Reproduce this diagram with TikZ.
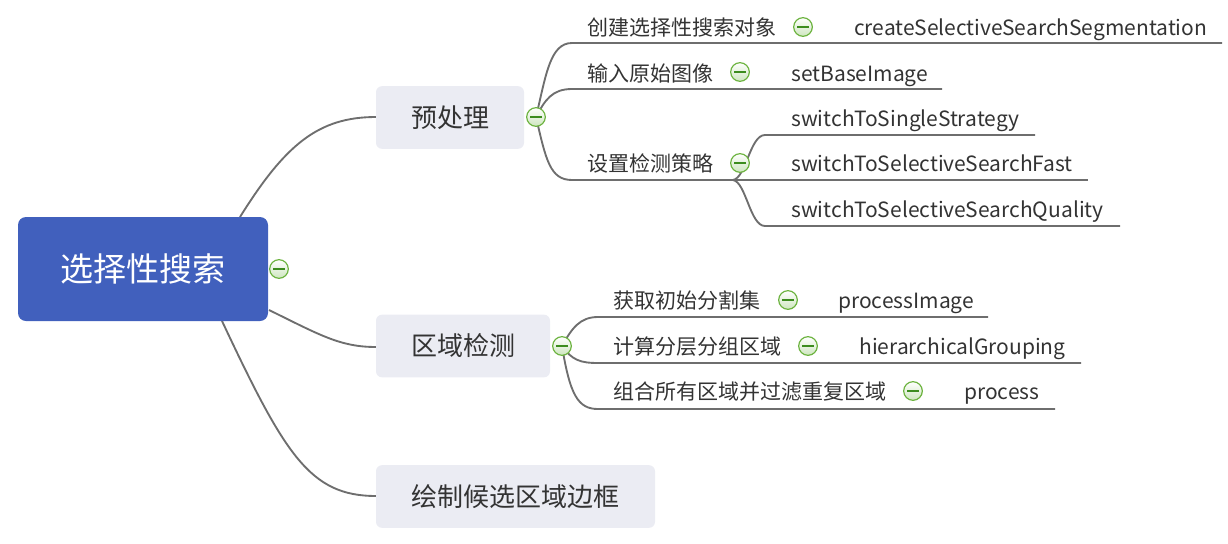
\documentclass[tikz,border=0pt]{standalone}
\usepackage{fontspec}
\setmainfont{Noto Sans CJK SC}
\definecolor{rootblue}{HTML}{4160BD}
\definecolor{subfill}{HTML}{EBECF3}
\definecolor{linegray}{HTML}{6E6E6E}
\definecolor{txt}{HTML}{333333}
\definecolor{foldgreen}{HTML}{6CB33F}
\definecolor{foldlight}{HTML}{CDE6BE}
\definecolor{folddark}{HTML}{3C8C1E}
\begin{document}
\begin{tikzpicture}[x=0.75pt,y=-0.75pt,
  conn/.style={draw=linegray, line width=1.4pt},
  rootbox/.style={fill=rootblue, rounded corners=6pt, minimum width=187.5pt, minimum height=78pt, text=white, font=\fontsize{24.8}{28}\selectfont, inner sep=0},
  subbox/.style={fill=subfill, rounded corners=4.5pt, minimum height=47pt, text=txt, font=\fontsize{19.5}{23}\selectfont, inner sep=0},
  lbl/.style={text=txt, font=\fontsize{15.75}{18}\selectfont, inner sep=0, anchor=base west},
  fold/.style={circle, draw=foldgreen, line width=0.9pt, minimum size=14pt, inner sep=0, top color=white, bottom color=foldlight,
    path picture={\draw[folddark, line width=1pt] ([xshift=-4.3pt]path picture bounding box.center) -- ([xshift=4.3pt]path picture bounding box.center);}}
]
\useasboundingbox (0,0) rectangle (1228,543);

% anchor coordinates
\coordinate (r1) at (240,217);
\coordinate (r2) at (269,310);
\coordinate (r3) at (222,321);
\coordinate (f0c) at (279,269);
\coordinate (f1c) at (536,117);
\coordinate (f2c) at (562,346);
\coordinate (a1) at (572,43);  \coordinate (a1e) at (1222,43);
\coordinate (a2) at (572,89);  \coordinate (a2e) at (942,89);
\coordinate (a3) at (572,180); \coordinate (a3e) at (733,180);
\coordinate (s1) at (765,135); \coordinate (s1e) at (1035,135);
\coordinate (s2) at (765,180); \coordinate (s2e) at (1088,180);
\coordinate (s3) at (765,226); \coordinate (s3e) at (1120,226);
\coordinate (b1) at (598,317); \coordinate (b1e) at (988,317);
\coordinate (b2) at (598,363); \coordinate (b2e) at (1081,363);
\coordinate (b3) at (598,409); \coordinate (b3e) at (1055,409);

% main connectors
\draw[conn] (r1) .. controls (285,145) and (318,117) .. (376,117);
\draw[conn] (r2) .. controls (320,335) and (340,347) .. (376,347);
\draw[conn] (r3) .. controls (285,455) and (310,496) .. (376,496);

% level 1 connectors (预处理)
\draw[conn] (f1c) .. controls (546,75) and (550,43) .. (a1) -- (a1e);
\draw[conn] (f1c) .. controls (545,100) and (552,89) .. (a2) -- (a2e);
\draw[conn] (f1c) .. controls (546,160) and (550,180) .. (a3) -- (a3e);
\draw[conn] (a3e) .. controls (746,178) and (750,135) .. (s1) -- (s1e);
\draw[conn] (a3e) -- (s2) -- (s2e);
\draw[conn] (a3e) .. controls (746,182) and (750,226) .. (s3) -- (s3e);

% level 1 connectors (区域检测)
\draw[conn] (f2c) .. controls (572,328) and (580,317) .. (b1) -- (b1e);
\draw[conn] (f2c) .. controls (572,360) and (580,363) .. (b2) -- (b2e);
\draw[conn] (f2c) .. controls (570,395) and (578,409) .. (b3) -- (b3e);

% boxes
\node[rootbox] (root) at (143,269) {选择性搜索};
\node[subbox, minimum width=111pt] (pre) at (450,117.5) {预处理};
\node[subbox, minimum width=130.5pt] (det) at (463,346) {区域检测};
\node[subbox, minimum width=209.25pt] (drw) at (515.5,496.5) {绘制候选区域边框};

% labels
\node[lbl] (c1) at (587,35) {创建选择性搜索对象};
\node[lbl] (c1a) at (854,35) {createSelectiveSearchSegmentation};
\node[lbl] (c2) at (587,81) {输入原始图像};
\node[lbl] (c2a) at (791,81) {setBaseImage};
\node[lbl] (c3) at (587,171) {设置检测策略};
\node[lbl] (c3a) at (791,126) {switchToSingleStrategy};
\node[lbl] (c3b) at (791,171) {switchToSelectiveSearchFast};
\node[lbl] (c3c) at (791,217) {switchToSelectiveSearchQuality};
\node[lbl] (d1) at (613,308) {获取初始分割集};
\node[lbl] (d1a) at (838,308) {processImage};
\node[lbl] (d2) at (613,354) {计算分层分组区域};
\node[lbl] (d2a) at (859,354) {hierarchicalGrouping};
\node[lbl] (d3) at (613,399) {组合所有区域并过滤重复区域};
\node[lbl] (d3a) at (964,399) {process};

% fold icons
\node[fold] (f0) at (f0c) {};
\node[fold] (f1) at (f1c) {};
\node[fold] (f2) at (f2c) {};
\node[fold] (g1) at (803,27) {};
\node[fold] (g2) at (740,72) {};
\node[fold] (g3) at (740,163) {};
\node[fold] (h1) at (788,300) {};
\node[fold] (h2) at (808,346) {};
\node[fold] (h3) at (913,391) {};
\end{tikzpicture}
\end{document}
